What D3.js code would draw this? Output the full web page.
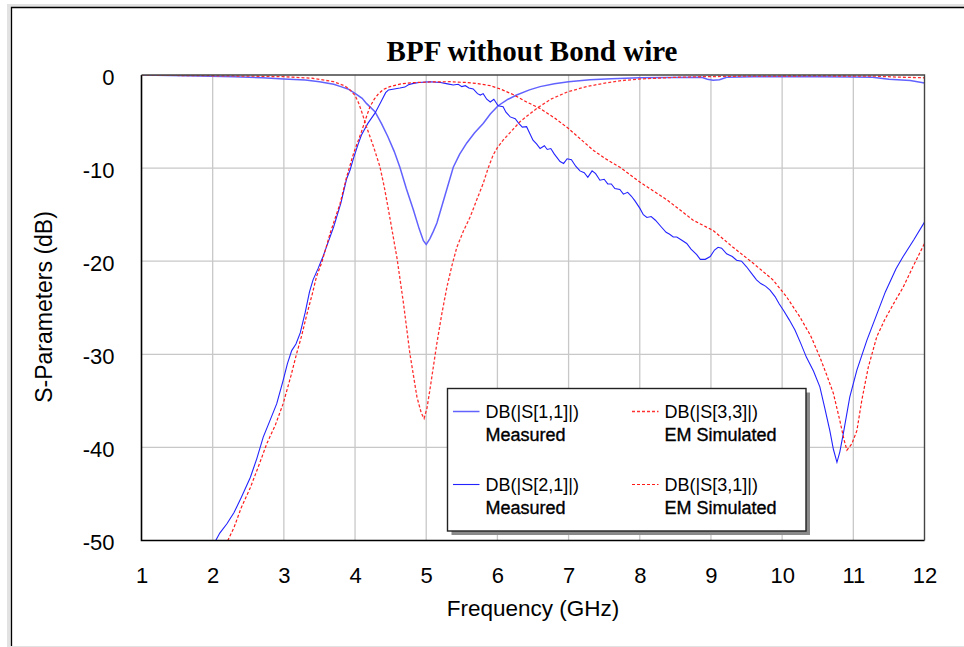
<!DOCTYPE html>
<html>
<head>
<meta charset="utf-8">
<script src="https://cdn.jsdelivr.net/npm/d3@7"></script>
<style>
  body { margin: 0; background: #fff; }
  svg { display: block; }
  .tick text { font-family: "Liberation Sans", Arial, sans-serif; font-size: 22px; fill: #000; }
</style>
</head>
<body>
<svg id="chart" width="964" height="647"></svg>
<script>
// axis ticks
var freqTicks = [1, 2, 3, 4, 5, 6, 7, 8, 9, 10, 11, 12];
var dbTicks = [0, -10, -20, -30, -40, -50];

// DB(|S[1,1]|) measured
var s11Freq = [1.0, 1.4, 1.8, 2.3, 2.7, 3.0, 3.3, 3.5, 3.7, 3.8, 3.9, 4.0, 4.1, 4.16, 4.28, 4.37, 4.46, 4.55, 4.63, 4.72, 4.82, 4.9, 4.96, 5.0, 5.05, 5.1, 5.15, 5.25, 5.38, 5.47, 5.57, 5.68, 5.8, 5.9, 6.01, 6.15, 6.27, 6.45, 6.6, 6.8, 7.0, 7.3, 7.6, 8.0, 8.4, 8.87, 8.95, 9.03, 9.12, 9.22, 9.6, 10.0, 10.5, 11.0, 11.27, 11.5, 11.8, 12.0];
var s11Db = [0, -0.05, -0.1, -0.18, -0.3, -0.43, -0.55, -0.72, -1.0, -1.25, -1.5, -1.97, -2.5, -3.05, -3.94, -5.2, -6.6, -8.2, -9.9, -12.2, -14.5, -16.5, -17.8, -18.2, -17.6, -16.8, -15.9, -13.3, -9.9, -8.5, -7.3, -6.2, -5.2, -4.2, -3.3, -2.6, -2.15, -1.6, -1.25, -0.95, -0.72, -0.5, -0.4, -0.29, -0.27, -0.25, -0.45, -0.57, -0.5, -0.25, -0.2, -0.2, -0.2, -0.22, -0.25, -0.45, -0.6, -0.86];

// DB(|S[2,1]|) measured
var s21Freq = [2.0, 2.1, 2.2, 2.3, 2.4, 2.53, 2.62, 2.71, 2.8, 2.9, 2.99, 3.05, 3.11, 3.17, 3.23, 3.3, 3.36, 3.41, 3.48, 3.55, 3.62, 3.7, 3.8, 3.88, 3.93, 3.98, 4.04, 4.09, 4.18, 4.28, 4.37, 4.43, 4.47, 4.55, 4.63, 4.7, 4.75, 4.82, 4.9, 5.05, 5.2, 5.3, 5.38, 5.45, 5.5, 5.55, 5.6, 5.66, 5.72, 5.76, 5.8, 5.85, 5.9, 5.95, 6.01, 6.08, 6.12, 6.18, 6.25, 6.3, 6.35, 6.41, 6.45, 6.5, 6.55, 6.6, 6.66, 6.7, 6.75, 6.8, 6.88, 6.93, 6.98, 7.04, 7.1, 7.16, 7.22, 7.27, 7.33, 7.38, 7.44, 7.5, 7.55, 7.6, 7.65, 7.72, 7.77, 7.83, 7.88, 7.93, 8.0, 8.05, 8.1, 8.16, 8.22, 8.3, 8.37, 8.42, 8.47, 8.52, 8.58, 8.66, 8.72, 8.8, 8.85, 8.92, 8.99, 9.05, 9.1, 9.15, 9.22, 9.3, 9.36, 9.43, 9.5, 9.57, 9.64, 9.7, 9.77, 9.83, 9.9, 9.96, 10.02, 10.1, 10.18, 10.26, 10.34, 10.44, 10.53, 10.6, 10.67, 10.72, 10.77, 10.81, 10.86, 10.95, 11.05, 11.19, 11.3, 11.45, 11.6, 11.7, 11.85, 12.0];
var s21Db = [-50.6, -49.2, -48.2, -47.0, -45.4, -43.2, -41.2, -38.9, -37.2, -35.3, -32.8, -31.0, -29.6, -28.9, -27.7, -25.5, -23.3, -22.0, -20.8, -19.5, -18.0, -16.3, -13.8, -11.2, -10.2, -8.9, -7.5, -6.45, -5.2, -4.1, -2.8, -1.9, -1.6, -1.5, -1.4, -1.3, -1.05, -0.9, -0.8, -0.72, -0.8, -0.95, -1.07, -1.0, -1.25, -1.15, -1.4, -1.5, -2.0, -2.15, -2.0, -2.6, -2.9, -2.6, -3.3, -3.4, -4.0, -4.5, -4.7, -5.2, -5.6, -5.55, -6.2, -7.0, -7.4, -7.9, -7.6, -8.0, -7.9, -8.5, -9.3, -9.5, -9.0, -9.1, -9.8, -10.3, -10.5, -11.0, -10.3, -10.6, -11.3, -11.2, -11.7, -11.7, -12.2, -12.3, -12.8, -12.6, -13.0, -13.5, -14.3, -15.0, -15.3, -15.2, -15.6, -16.3, -16.9, -17.1, -17.4, -17.4, -17.7, -18.1, -18.7, -19.3, -19.8, -19.8, -19.5, -18.8, -18.5, -18.6, -19.2, -19.5, -19.9, -20.0, -20.6, -21.3, -22.0, -22.4, -22.7, -23.1, -23.8, -24.6, -25.3, -26.3, -27.4, -28.8, -30.3, -31.8, -33.5, -35.8, -38.2, -40.2, -41.6, -40.5, -38.5, -34.6, -31.7, -28.5, -26.3, -23.3, -20.8, -19.5, -17.7, -15.8];

// DB(|S[3,3]|) EM simulated
var s33Freq = [1.0, 1.5, 2.0, 2.5, 3.0, 3.4, 3.7, 3.85, 3.93, 4.0, 4.05, 4.1, 4.16, 4.26, 4.35, 4.41, 4.47, 4.53, 4.59, 4.68, 4.77, 4.87, 4.93, 4.97, 5.01, 5.05, 5.15, 5.22, 5.29, 5.36, 5.43, 5.52, 5.62, 5.71, 5.8, 5.87, 5.94, 6.0, 6.08, 6.2, 6.32, 6.45, 6.57, 6.75, 6.99, 7.25, 7.49, 7.75, 8.0, 8.5, 8.9, 9.5, 10.5, 11.3, 11.6, 12.0];
var s33Db = [0, -0.05, -0.08, -0.12, -0.18, -0.35, -0.72, -1.15, -1.6, -2.2, -3.0, -4.1, -5.55, -7.7, -9.86, -12.0, -14.5, -17.1, -19.7, -24.5, -29.9, -34.6, -36.3, -36.9, -35.8, -33.9, -28.8, -25.6, -22.8, -20.5, -18.5, -16.8, -15.2, -13.4, -11.65, -10.0, -8.6, -7.8, -7.0, -6.0, -5.0, -4.2, -3.5, -2.6, -1.8, -1.25, -0.9, -0.6, -0.43, -0.25, -0.18, -0.12, -0.1, -0.12, -0.22, -0.3];

// DB(|S[3,1]|) EM simulated
var s31Freq = [2.18, 2.3, 2.4, 2.53, 2.65, 2.76, 2.88, 2.99, 3.1, 3.18, 3.25, 3.32, 3.4, 3.46, 3.53, 3.65, 3.79, 3.88, 3.98, 4.09, 4.15, 4.21, 4.27, 4.33, 4.4, 4.49, 4.65, 4.82, 5.05, 5.33, 5.55, 5.71, 5.9, 6.04, 6.22, 6.41, 6.6, 6.8, 6.99, 7.17, 7.35, 7.52, 7.72, 8.0, 8.2, 8.38, 8.55, 8.75, 9.03, 9.31, 9.59, 9.87, 10.06, 10.25, 10.4, 10.53, 10.63, 10.72, 10.81, 10.87, 10.91, 10.98, 11.05, 11.12, 11.21, 11.33, 11.44, 11.57, 11.7, 11.85, 12.0];
var s31Db = [-50.5, -48.6, -46.5, -44.3, -41.9, -39.6, -37.6, -35.3, -32.3, -29.9, -28.0, -25.8, -23.5, -21.6, -20.2, -17.0, -13.8, -11.0, -8.4, -6.1, -4.7, -3.4, -2.6, -2.0, -1.55, -1.25, -0.95, -0.82, -0.75, -0.72, -0.8, -0.9, -1.15, -1.5, -2.1, -2.9, -3.6, -4.6, -5.7, -6.9, -8.1, -9.0, -9.9, -11.5, -12.5, -13.4, -14.4, -15.6, -16.7, -18.5, -20.2, -22.0, -23.8, -26.0, -28.0, -30.3, -32.3, -34.2, -37.1, -39.2, -40.3, -39.6, -38.2, -34.9, -31.4, -28.1, -26.3, -24.5, -22.8, -20.4, -18.1];

var legendNames = ["DB(|S[1,1]|)", "DB(|S[2,1]|)", "DB(|S[3,3]|)", "DB(|S[3,1]|)"];
var legendNotes = ["Measured", "Measured", "EM Simulated", "EM Simulated"];

(function () {
  var series = [
    { f: s11Freq, db: s11Db, color: "#6262ff", width: 1.5, dash: null },
    { f: s21Freq, db: s21Db, color: "#2323ff", width: 1.1, dash: null },
    { f: s33Freq, db: s33Db, color: "#ff3030", width: 1.3, dash: "3,2" },
    { f: s31Freq, db: s31Db, color: "#ff1a1a", width: 1.2, dash: "3,2" }
  ];

  var svg = d3.select("#chart");
  var font = '"Liberation Sans", Arial, sans-serif';

  // window frame
  svg.append("rect").attr("x", 7).attr("y", 4).attr("width", 970).attr("height", 650).attr("fill", "#e2e2e2");
  svg.append("rect").attr("x", 11).attr("y", 7).attr("width", 960).attr("height", 639).attr("fill", "#fff");
  svg.append("path").attr("d", "M11.5,646V7.5H964").attr("fill", "none").attr("stroke", "#000").attr("stroke-width", 1.3);

  var pLeft = 141.5, pRight = 924.5, pTop = 75, pBottom = 540.5;
  var x = d3.scaleLinear().domain([1, 12]).range([pLeft, pRight]);
  var y = d3.scaleLinear().domain([-50, 0]).range([pBottom, pTop]);

  // grid
  svg.append("g").selectAll("line").data(freqTicks.slice(1, -1)).enter().append("line")
    .attr("x1", function (d) { return x(d); }).attr("x2", function (d) { return x(d); })
    .attr("y1", pTop).attr("y2", pBottom)
    .attr("stroke", "#c8c8c8").attr("stroke-width", 1.3);
  svg.append("g").selectAll("line").data(dbTicks.slice(1, -1)).enter().append("line")
    .attr("x1", pLeft).attr("x2", pRight)
    .attr("y1", function (d) { return y(d); }).attr("y2", function (d) { return y(d); })
    .attr("stroke", "#c8c8c8").attr("stroke-width", 1.3);

  // axes (labels only, frame drawn below); plain hyphen for negatives
  var plain = function (d) { return String(d); };
  var xAxis = svg.append("g").attr("transform", "translate(0," + pBottom + ")")
    .call(d3.axisBottom(x).tickValues(freqTicks).tickSize(0).tickPadding(27).tickFormat(plain));
  var yAxis = svg.append("g").attr("transform", "translate(" + pLeft + ",0)")
    .call(d3.axisLeft(y).tickValues(dbTicks).tickSize(0).tickPadding(27).tickFormat(plain));
  xAxis.select(".domain").remove();
  yAxis.select(".domain").remove();
  yAxis.selectAll(".tick text").attr("dy", "0.42em");

  // curves
  svg.append("clipPath").attr("id", "plotClip").append("rect")
    .attr("x", pLeft).attr("y", pTop).attr("width", pRight - pLeft).attr("height", pBottom - pTop);
  var plot = svg.append("g").attr("clip-path", "url(#plotClip)");
  series.forEach(function (s) {
    var line = d3.line()
      .x(function (d, i) { return x(s.f[i]); })
      .y(function (d) { return y(d); });
    plot.append("path")
      .datum(s.db)
      .attr("d", line)
      .attr("fill", "none")
      .attr("stroke", s.color)
      .attr("stroke-width", s.width)
      .attr("stroke-dasharray", s.dash);
  });

  // plot frame
  svg.append("path").attr("d", "M" + pLeft + "," + pTop + "V" + pBottom + "H" + pRight)
    .attr("fill", "none").attr("stroke", "#000").attr("stroke-width", 1.6);
  svg.append("path").attr("d", "M" + pLeft + "," + pTop + "H" + pRight + "V" + pBottom)
    .attr("fill", "none").attr("stroke", "#444").attr("stroke-width", 1.4);

  // titles
  svg.append("text").attr("x", 532).attr("y", 61).attr("text-anchor", "middle")
    .style("font-family", '"Liberation Serif", "Times New Roman", serif').style("font-weight", "bold").style("font-size", "29px")
    .text("BPF without Bond wire");
  svg.append("text").attr("x", 533).attr("y", 616).attr("text-anchor", "middle")
    .style("font-family", font).style("font-size", "22.5px")
    .text("Frequency (GHz)");
  svg.append("text").attr("transform", "translate(52,307) rotate(-90)").attr("text-anchor", "middle")
    .style("font-family", font).style("font-size", "23px")
    .text("S-Parameters (dB)");

  // legend
  var lg = svg.append("g");
  lg.append("rect").attr("x", 451.5).attr("y", 392.5).attr("width", 358.5).attr("height", 142.5).attr("fill", "#8a8a8a");
  lg.append("rect").attr("x", 447.5).attr("y", 388.5).attr("width", 358.5).attr("height", 142.5)
    .attr("fill", "#fff").attr("stroke", "#222").attr("stroke-width", 1.4);
  var colX = [453, 453, 632, 632];
  var rowY = [411.5, 484.5, 411.5, 484.5];
  legendNames.forEach(function (name, i) {
    var s = series[i];
    lg.append("line").attr("x1", colX[i]).attr("x2", colX[i] + 26.5)
      .attr("y1", rowY[i]).attr("y2", rowY[i])
      .attr("stroke", s.color).attr("stroke-width", s.width).attr("stroke-dasharray", s.dash);
    lg.append("text").attr("x", colX[i] + 32.5).attr("y", rowY[i] + 6.8)
      .style("font-family", font).style("font-size", "18px").text(name);
    lg.append("text").attr("x", colX[i] + 32.5).attr("y", rowY[i] + 29.4)
      .style("font-family", font).style("font-size", "18px")
      .attr("stroke", "#000").attr("stroke-width", 0.35).text(legendNotes[i]);
  });
})();
</script>
</body>
</html>
